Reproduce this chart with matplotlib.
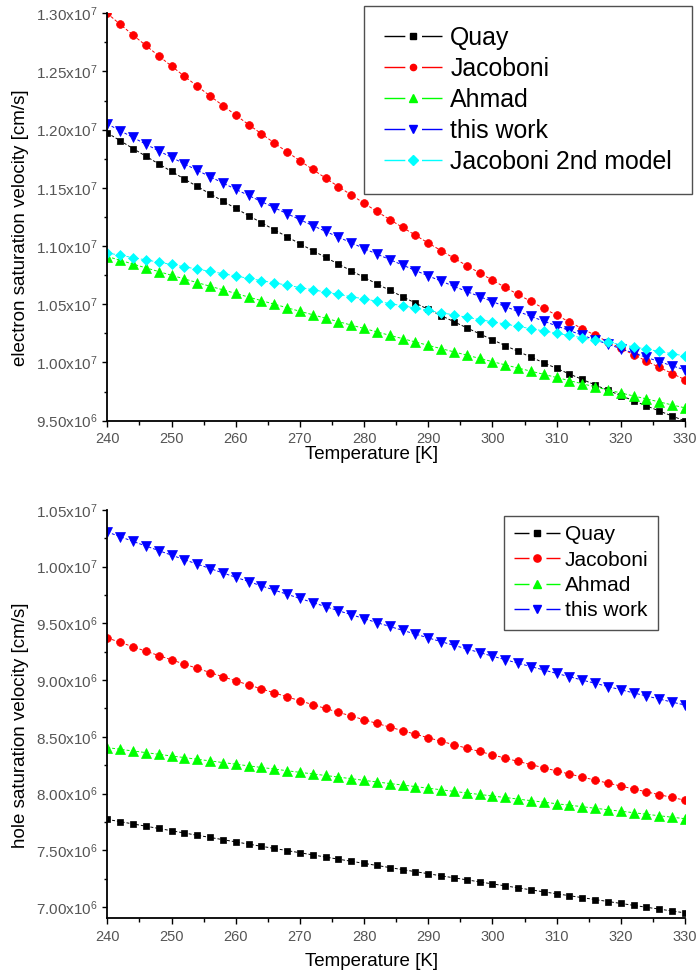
import numpy as np
import matplotlib
matplotlib.use("Agg")
import matplotlib.pyplot as plt
from matplotlib.lines import Line2D
from matplotlib.ticker import MultipleLocator, FuncFormatter

plt.rcParams['font.family'] = ['Liberation Sans', 'DejaVu Sans']
plt.rcParams['mathtext.fontset'] = 'custom'
plt.rcParams['mathtext.rm'] = 'Liberation Sans'
plt.rcParams['mathtext.it'] = 'Liberation Sans:italic'
plt.rcParams['mathtext.bf'] = 'Liberation Sans:bold'

# Temperature grid [K]
temperature = list(range(240, 331, 2))

# Saturation velocities in units of 1e6 cm/s
UNIT = 1e6

electron_quay = [
    11.972, 11.905, 11.838, 11.772, 11.706, 11.641, 11.576, 11.512, 11.449, 11.386,
    11.324, 11.262, 11.201, 11.140, 11.080, 11.020, 10.961, 10.903, 10.845, 10.788,
    10.731, 10.675, 10.620, 10.565, 10.510, 10.456, 10.403, 10.350, 10.298, 10.246,
    10.195, 10.145, 10.095, 10.046, 9.997, 9.949, 9.901, 9.854, 9.807, 9.761,
    9.716, 9.671, 9.627, 9.583, 9.540, 9.497]
electron_jacoboni = [
    12.998, 12.905, 12.813, 12.723, 12.634, 12.546, 12.459, 12.374, 12.290, 12.207,
    12.125, 12.044, 11.965, 11.886, 11.809, 11.733, 11.658, 11.584, 11.511, 11.439,
    11.368, 11.297, 11.228, 11.160, 11.093, 11.026, 10.961, 10.896, 10.832, 10.769,
    10.707, 10.645, 10.584, 10.524, 10.464, 10.406, 10.348, 10.290, 10.234, 10.177,
    10.122, 10.067, 10.012, 9.958, 9.905, 9.852]
electron_ahmad = [
    10.910, 10.878, 10.845, 10.813, 10.781, 10.749, 10.718, 10.686, 10.655, 10.624,
    10.593, 10.562, 10.531, 10.501, 10.470, 10.440, 10.410, 10.380, 10.351, 10.321,
    10.292, 10.263, 10.233, 10.205, 10.176, 10.147, 10.119, 10.091, 10.063, 10.035,
    10.007, 9.979, 9.952, 9.925, 9.898, 9.871, 9.844, 9.817, 9.791, 9.764,
    9.738, 9.712, 9.687, 9.661, 9.635, 9.610]
electron_this_work = [
    12.049, 11.991, 11.933, 11.875, 11.818, 11.762, 11.706, 11.651, 11.596, 11.542,
    11.488, 11.435, 11.382, 11.330, 11.278, 11.227, 11.176, 11.126, 11.077, 11.028,
    10.979, 10.931, 10.884, 10.837, 10.790, 10.744, 10.699, 10.654, 10.610, 10.566,
    10.523, 10.480, 10.438, 10.396, 10.355, 10.314, 10.274, 10.234, 10.195, 10.157,
    10.118, 10.081, 10.044, 10.007, 9.971, 9.936]
electron_jacoboni2 = [
    10.941, 10.921, 10.901, 10.881, 10.862, 10.842, 10.822, 10.802, 10.783, 10.763,
    10.743, 10.723, 10.703, 10.684, 10.664, 10.644, 10.625, 10.605, 10.585, 10.565,
    10.546, 10.526, 10.506, 10.487, 10.467, 10.447, 10.428, 10.408, 10.388, 10.369,
    10.349, 10.330, 10.310, 10.290, 10.271, 10.251, 10.232, 10.212, 10.193, 10.173,
    10.154, 10.134, 10.115, 10.095, 10.075, 10.056]

hole_quay = [
    7.772, 7.752, 7.732, 7.712, 7.692, 7.672, 7.652, 7.632, 7.613, 7.593,
    7.574, 7.554, 7.535, 7.516, 7.497, 7.478, 7.459, 7.440, 7.421, 7.403,
    7.384, 7.366, 7.347, 7.329, 7.311, 7.293, 7.274, 7.257, 7.239, 7.221,
    7.203, 7.186, 7.168, 7.151, 7.133, 7.116, 7.099, 7.082, 7.065, 7.048,
    7.031, 7.014, 6.997, 6.981, 6.964, 6.948]
hole_jacoboni = [
    9.372, 9.333, 9.294, 9.255, 9.217, 9.179, 9.141, 9.104, 9.067, 9.030,
    8.994, 8.958, 8.923, 8.888, 8.853, 8.818, 8.784, 8.750, 8.717, 8.683,
    8.651, 8.618, 8.586, 8.554, 8.523, 8.492, 8.461, 8.430, 8.400, 8.371,
    8.341, 8.312, 8.283, 8.255, 8.227, 8.199, 8.172, 8.145, 8.118, 8.092,
    8.066, 8.040, 8.015, 7.990, 7.965, 7.941]
hole_ahmad = [
    8.405, 8.390, 8.375, 8.361, 8.346, 8.331, 8.317, 8.302, 8.288, 8.273,
    8.259, 8.244, 8.230, 8.216, 8.201, 8.187, 8.173, 8.159, 8.145, 8.131,
    8.116, 8.102, 8.088, 8.075, 8.061, 8.047, 8.033, 8.019, 8.005, 7.992,
    7.978, 7.965, 7.951, 7.937, 7.924, 7.910, 7.897, 7.884, 7.870, 7.857,
    7.844, 7.831, 7.817, 7.804, 7.791, 7.778]
hole_this_work = [
    10.306, 10.265, 10.223, 10.183, 10.142, 10.102, 10.062, 10.023, 9.984, 9.945,
    9.907, 9.869, 9.831, 9.794, 9.757, 9.720, 9.684, 9.648, 9.612, 9.577,
    9.542, 9.507, 9.473, 9.439, 9.406, 9.372, 9.339, 9.307, 9.275, 9.243,
    9.211, 9.180, 9.149, 9.119, 9.089, 9.059, 9.030, 9.000, 8.972, 8.943,
    8.915, 8.887, 8.860, 8.833, 8.806, 8.780]

electron_labels = ["Quay", "Jacoboni", "Ahmad", "this work", "Jacoboni 2nd model"]
hole_labels = ["Quay", "Jacoboni", "Ahmad", "this work"]

electron_series = [electron_quay, electron_jacoboni, electron_ahmad,
                   electron_this_work, electron_jacoboni2]
hole_series = [hole_quay, hole_jacoboni, hole_ahmad, hole_this_work]

colors = ["#000000", "#ff0000", "#00ff00", "#0000ff", "#00ffff"]
markers = ["s", "o", "^", "v", "D"]
plot_ms = [5.0, 5.6, 6.6, 6.6, 5.2]
top_legend_ms = [4.3, 4.5, 5.2, 5.2, 4.6]
bottom_legend_ms = [4.8, 5.2, 6.0, 6.0]

TICK_GRAY = "#555555"


def sci_fmt(v, pos):
    if v == 0:
        return "0"
    e = int(np.floor(np.log10(abs(v)) + 1e-6))
    m = v / 10 ** e
    return f"{m:.2f}x$10^{{{e}}}$"


def style_axes(ax, ylim):
    ax.set_xlim(240, 330)
    ax.set_ylim(*ylim)
    for side in ("top", "right"):
        ax.spines[side].set_visible(False)
    for side in ("left", "bottom"):
        ax.spines[side].set_linewidth(1.3)
    ax.xaxis.set_major_locator(MultipleLocator(10))
    ax.xaxis.set_minor_locator(MultipleLocator(5))
    ax.yaxis.set_major_locator(MultipleLocator(0.5e6))
    ax.yaxis.set_minor_locator(MultipleLocator(0.25e6))
    ax.yaxis.set_major_formatter(FuncFormatter(sci_fmt))
    ax.tick_params(axis="x", which="major", direction="out", length=4.2,
                   width=1.0, pad=4.0, labelsize=10.5, labelcolor=TICK_GRAY)
    ax.tick_params(axis="x", which="minor", direction="out", length=2.8, width=1.0)
    ax.tick_params(axis="y", which="major", direction="out", length=3.4,
                   width=1.0, pad=3.5, labelsize=11, labelcolor=TICK_GRAY)
    ax.tick_params(axis="y", which="minor", direction="out", length=2.4, width=1.0)


def draw_series(ax, series):
    for vals, c, m, ms in zip(series, colors, markers, plot_ms):
        ax.plot(temperature, [v * UNIT for v in vals], color=c, lw=0.7,
                linestyle=(0, (3, 2)), marker=m, ms=ms, mfc=c, mec=c, mew=0.5)


def legend_handles(n, ms_list, dashes):
    return [Line2D([0], [0], color=colors[i], lw=1.0, linestyle=(0, dashes),
                   marker=markers[i], ms=ms_list[i], mfc=colors[i], mec=colors[i])
            for i in range(n)]


fig = plt.figure(figsize=(6.96, 9.74), dpi=100)

# Electron saturation velocity panel
ax1 = fig.add_axes([0.1542, 0.5681, 0.8300, 0.4183])
draw_series(ax1, electron_series)
style_axes(ax1, (9.5e6, 1.30e7))
ax1.set_xlabel("Temperature [K]", fontsize=13.5)
ax1.set_ylabel("electron saturation velocity [cm/s]", fontsize=13.5)
ax1.xaxis.set_label_coords(0.458, -0.062)
ax1.yaxis.set_label_coords(-0.135, 0.473)
leg1 = ax1.legend(legend_handles(5, top_legend_ms, (15, 12, 15.6, 40)), electron_labels,
                  loc="upper right", bbox_to_anchor=(1.012, 1.018), borderaxespad=0,
                  fontsize=17.9, handlelength=2.35, handletextpad=0.32,
                  labelspacing=0.28, borderpad=0.8, numpoints=1,
                  fancybox=False, framealpha=1.0, edgecolor="#505050")
leg1.get_frame().set_linewidth(1.0)

# Hole saturation velocity panel
ax2 = fig.add_axes([0.1542, 0.0572, 0.8300, 0.4192])
draw_series(ax2, hole_series)
style_axes(ax2, (6.9e6, 1.05e7))
ax2.set_xlabel("Temperature [K]", fontsize=13.5)
ax2.set_ylabel("hole saturation velocity [cm/s]", fontsize=13.5)
ax2.xaxis.set_label_coords(0.458, -0.085)
ax2.yaxis.set_label_coords(-0.135, 0.473)
leg2 = ax2.legend(legend_handles(4, bottom_legend_ms, (10.8, 12.2, 10.8, 40)), hole_labels,
                  loc="upper right", bbox_to_anchor=(0.953, 0.985), borderaxespad=0,
                  fontsize=15, handlelength=2.2, handletextpad=0.25,
                  labelspacing=0.3, borderpad=0.45, numpoints=1,
                  fancybox=False, framealpha=1.0, edgecolor="#505050")
leg2.get_frame().set_linewidth(1.0)

fig.savefig("out.png", dpi=100)
